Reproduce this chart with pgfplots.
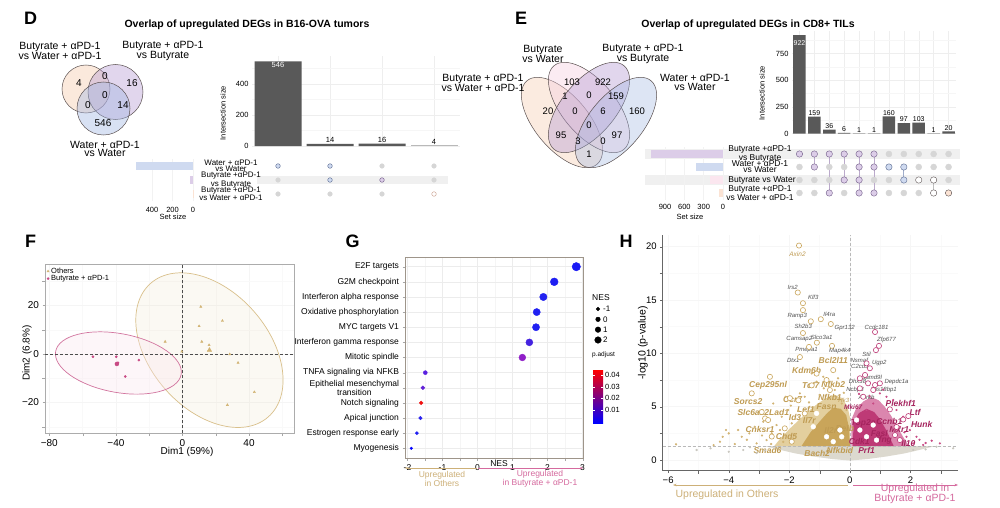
\documentclass[border=0pt]{standalone}
\usepackage{fontspec}
\setmainfont{Liberation Sans}
\usepackage{pgfplots}
\pgfplotsset{compat=1.18}
\usetikzlibrary{arrows.meta}

\newcommand{\fs}[1]{\fontsize{#1}{#1}\selectfont}
\newcommand{\fsl}[2]{\fontsize{#1}{#2}\selectfont}

\definecolor{barcol}{HTML}{595959}
\definecolor{dotgrey}{HTML}{D6D6D6}
\definecolor{peachF}{HTML}{FBE3D4}
\definecolor{purpF}{HTML}{DCCDE8}
\definecolor{blueF}{HTML}{CFDAF0}
\definecolor{pinkF}{HTML}{FBE6EF}
\definecolor{purpE}{HTML}{6F5A86}
\definecolor{blueE}{HTML}{5A6A90}
\definecolor{peachE}{HTML}{C89C8A}
\definecolor{vline}{HTML}{5A5050}
\definecolor{vpeach}{HTML}{F6C8A8}
\definecolor{vpurp}{HTML}{B49AD2}
\definecolor{vblue}{HTML}{9FB5E2}
\definecolor{vpink}{HTML}{F5CFE0}
\definecolor{tanC}{HTML}{C9A55A}
\definecolor{tanL}{HTML}{E3CF9E}
\definecolor{tanLab}{HTML}{BF9B52}
\definecolor{tanDot}{HTML}{D2B474}
\definecolor{pinkC}{HTML}{BE3A76}
\definecolor{pinkL}{HTML}{DB86AE}
\definecolor{pinkLab}{HTML}{A5245E}
\definecolor{pinkDot}{HTML}{C84A84}
\definecolor{greyC}{HTML}{DCD9CF}
\definecolor{arrTan}{HTML}{CDB078}
\definecolor{arrPink}{HTML}{D56A9E}
\definecolor{gbox}{HTML}{9E958A}

\pgfplotsset{
  upbase/.style={scale only axis, clip=false, axis line style={draw=none},
    tick style={draw=none}, major tick length=0pt,
    ticklabel style={font=\fs{7.5}}},
}
\tikzset{
  tanb/.style={font=\bfseries\itshape\fs{8.5}, text=tanLab, inner sep=0pt},
  pinkb/.style={font=\bfseries\itshape\fs{8.5}, text=pinkLab, inner sep=0pt},
  gsm/.style={font=\itshape\fs{6}, text=gray!65!black, inner sep=0pt},
}

\begin{document}
\begin{tikzpicture}[x=1pt,y=1pt]
\useasboundingbox (0,0) rectangle (1000,507);
\fill[white] (0,0) rectangle (1000,507);

% panel letters and titles
\node[font=\bfseries\fs{18}] at (30.5,488.5) {D};
\node[font=\bfseries\fs{18}] at (521,488.5) {E};
\node[font=\bfseries\fs{18}] at (30.5,265.5) {F};
\node[font=\bfseries\fs{18}] at (352.5,265.5) {G};
\node[font=\bfseries\fs{18}] at (626,265.5) {H};
\node[font=\bfseries\fs{10.5}] at (247,482) {Overlap of upregulated DEGs in B16-OVA tumors};
\node[font=\bfseries\fs{10.5}] at (748,482) {Overlap of upregulated DEGs in CD8+ TILs};

% ---------------- D : venn
\begin{scope}[line width=0.5pt]
\filldraw[draw=vline, fill=vpeach, fill opacity=0.4] (86,418) circle[radius=24];
\filldraw[draw=vline, fill=vpurp, fill opacity=0.4] (115.5,415) circle[radius=27.5];
\filldraw[draw=vline, fill=vblue, fill opacity=0.4] (103.5,398.5) circle[radius=26.5];
\end{scope}
\begin{scope}[every node/.style={font=\fs{10}}]
\node at (79,424) {4};
\node at (105,431) {0};
\node at (132,424) {16};
\node at (105,412) {0};
\node at (88,402) {0};
\node at (123,402) {14};
\node at (103,384) {546};
\end{scope}
\begin{scope}[every node/.style={font=\fsl{10.5}{8.5}, align=center}]
\node at (60,456) {Butyrate + αPD-1\\vs Water + αPD-1};
\node at (163,456) {Butyrate + αPD-1\\vs Butyrate};
\node at (105,358) {Water + αPD-1\\vs Water};
\end{scope}

% ---------------- D : upset
\fill[gray!12] (257,323) rectangle (448,331);
\begin{axis}[upbase, at={(252pt,361pt)}, anchor=south west, width=208pt, height=89.9pt,
  xmin=0.5, xmax=4.5, ymin=0, ymax=580,
  xtick={1,2,3,4}, xticklabels={}, ytick={0,200,400}, yticklabels={0,200,400},
  minor ytick={100,300,500},
  xmajorgrids, ymajorgrids, yminorgrids,
  grid style={gray!13, line width=0.4pt}, minor grid style={gray!7},
  ybar, bar width=47pt, bar shift=0pt]
\addplot[fill=barcol, draw=none, bar shift=0pt] coordinates {(1,546) (2,14) (3,16)};
\addplot[fill=gray!55, draw=none, bar shift=0pt] coordinates {(4,4)};
\node[text=white, font=\fs{7.5}] at (axis cs:1,520) {546};
\node[font=\fs{7.5}, above, inner sep=1pt] at (axis cs:2,14) {14};
\node[font=\fs{7.5}, above, inner sep=1pt] at (axis cs:3,16) {16};
\node[font=\fs{7.5}, above, inner sep=1pt] at (axis cs:4,4) {4};
\end{axis}
\node[rotate=90, font=\fs{7.5}] at (223,394) {Intersection size};

\begin{axis}[at={(252pt,306pt)}, anchor=south west, width=208pt, height=42pt,
  scale only axis, hide axis, clip=false,
  xmin=0.5, xmax=4.5, ymin=0.5, ymax=3.5]
\addplot[only marks, mark=*, mark size=2.3pt, color=dotgrey]
  coordinates {(3,3) (4,3) (1,2) (4,2) (1,1) (2,1) (3,1)};
\addplot[only marks, mark=*, mark size=2.3pt, mark options={draw=blueE, fill=blueF}]
  coordinates {(1,3) (2,3) (2,2)};
\addplot[only marks, mark=*, mark size=2.3pt, mark options={draw=purpE, fill=purpF}]
  coordinates {(3,2)};
\addplot[only marks, mark=*, mark size=2.3pt, mark options={draw=peachE, fill=white}]
  coordinates {(4,1)};
\end{axis}

\begin{axis}[upbase, at={(193pt,306pt)}, anchor=south east, width=63.5pt, height=42pt,
  x dir=reverse, xmin=0, xmax=620, ymin=0.5, ymax=3.5,
  xbar, bar width=8pt, bar shift=0pt,
  xtick={0,200,400}, xticklabels={0,200,400}, ytick=\empty,
  xmajorgrids, grid style={gray!10},
  xticklabel style={yshift=-3pt}]
\addplot[fill=blueF, draw=none, bar shift=0pt] coordinates {(560,3)};
\addplot[fill=purpF, draw=none, bar shift=0pt] coordinates {(30,2)};
\addplot[fill=peachF, draw=none, bar shift=0pt] coordinates {(4,1)};
\end{axis}
\node[font=\fs{7.5}] at (173,290) {Set size};
\begin{scope}[every node/.style={font=\fsl{8}{6}, align=center, inner sep=0pt}]
\node at (231,341) {Water + αPD-1\\vs Water};
\node at (231,327) {Butyrate +αPD-1\\vs Butyrate};
\node at (231,313) {Butyrate +αPD-1\\vs Water + αPD-1};
\end{scope}

% ---------------- E : venn
\begin{scope}[line width=0.5pt]
\filldraw[draw=vline, fill=vpeach, fill opacity=0.35, rotate around={-50:(562,384.5)}]
  (562,384.5) ellipse[x radius=54.5, y radius=26.8];
\filldraw[draw=vline, fill=vpink, fill opacity=0.4, rotate around={-50:(589,399.5)}]
  (589,399.5) ellipse[x radius=54.5, y radius=26.8];
\filldraw[draw=vline, fill=vpurp, fill opacity=0.4, rotate around={50:(589,399.5)}]
  (589,399.5) ellipse[x radius=54.5, y radius=26.8];
\filldraw[draw=vline, fill=vblue, fill opacity=0.35, rotate around={50:(616,384.5)}]
  (616,384.5) ellipse[x radius=54.5, y radius=26.8];
\end{scope}
\begin{scope}[every node/.style={font=\fs{9.5}}]
\node at (572,425) {103};
\node at (603,425) {922};
\node at (565,411) {1};
\node at (589,412) {0};
\node at (616,411) {159};
\node at (548,396) {20};
\node at (575,396) {0};
\node at (603,396) {6};
\node at (637,396) {160};
\node at (589,382) {0};
\node at (561,372) {95};
\node at (617,372) {97};
\node at (578,366) {3};
\node at (603,366) {0};
\node at (589,353) {1};
\end{scope}
\begin{scope}[every node/.style={font=\fsl{10.5}{8.5}, align=center}]
\node at (543,453) {Butyrate\\vs Water};
\node at (643,453) {Butyrate + αPD-1\\vs Butyrate};
\node at (695,424.5) {Water + αPD-1\\vs Water};
\node at (483,424) {Butyrate + αPD-1\\vs Water + αPD-1};
\end{scope}

% ---------------- E : upset
\fill[gray!12] (645,348) rectangle (960,358);
\fill[gray!12] (645,322) rectangle (960,332);
\begin{axis}[upbase, at={(792pt,373.5pt)}, anchor=south west, width=164pt, height=102.4pt,
  xmin=0.5, xmax=11.5, ymin=0, ymax=960,
  xtick={1,...,11}, xticklabels={}, ytick={0,250,500,750}, yticklabels={0,250,500,750},
  minor ytick={125,375,625,875},
  xmajorgrids, ymajorgrids, yminorgrids,
  grid style={gray!13, line width=0.4pt}, minor grid style={gray!7},
  ybar, bar width=12.5pt, bar shift=0pt]
\addplot[fill=barcol, draw=none, bar shift=0pt] coordinates {
  (1,922) (2,159) (3,36) (4,6) (5,1) (6,1) (7,160) (8,97) (9,103) (10,1) (11,20)};
\node[text=white, font=\fs{7}] at (axis cs:1,848) {922};
\begin{scope}[every node/.style={font=\fs{7}, above, inner sep=1pt}]
\node at (axis cs:2,159) {159};
\node at (axis cs:3,36) {36};
\node at (axis cs:4,6) {6};
\node at (axis cs:5,1) {1};
\node at (axis cs:6,1) {1};
\node at (axis cs:7,160) {160};
\node at (axis cs:8,97) {97};
\node at (axis cs:9,103) {103};
\node at (axis cs:10,1) {1};
\node at (axis cs:11,20) {20};
\end{scope}
\end{axis}
\node[rotate=90, font=\fs{7.5}] at (762,414) {Intersection size};

\begin{axis}[at={(792pt,307.5pt)}, anchor=south west, width=164pt, height=52pt,
  scale only axis, hide axis, clip=false, unbounded coords=jump,
  xmin=0.5, xmax=11.5, ymin=0.5, ymax=4.5]
\addplot[only marks, mark=*, mark size=3pt, color=dotgrey] coordinates {
  (7,4) (8,4) (9,4) (10,4) (11,4)
  (1,3) (3,3) (4,3) (9,3) (10,3) (11,3)
  (1,2) (2,2) (3,2) (6,2) (7,2) (11,2)
  (1,1) (2,1) (4,1) (7,1) (8,1) (9,1)};
\addplot[color=purpF!70!purpE, line width=1pt] coordinates {
  (2,4) (2,3) (2,nan) (3,4) (3,1) (3,nan) (4,4) (4,2) (4,nan)
  (5,4) (5,1) (5,nan) (6,4) (6,1)};
\addplot[color=blueF!60!blueE, line width=1pt] coordinates {(8,3) (8,2)};
\addplot[color=gray!50, line width=1pt] coordinates {(10,2) (10,1)};
\addplot[only marks, mark=*, mark size=3.2pt, mark options={draw=purpE, fill=purpF}] coordinates {
  (1,4) (2,4) (3,4) (4,4) (5,4) (6,4) (2,3) (5,3) (6,3) (4,2) (5,2) (3,1) (5,1) (6,1)};
\addplot[only marks, mark=*, mark size=3.2pt, mark options={draw=blueE, fill=blueF}] coordinates {
  (7,3) (8,3) (8,2)};
\addplot[only marks, mark=*, mark size=3.2pt, mark options={draw=vline, fill=white}] coordinates {
  (9,2) (10,2) (10,1)};
\addplot[only marks, mark=*, mark size=3.2pt, mark options={draw=vline, fill=peachF}] coordinates {
  (11,1)};
\end{axis}

\begin{axis}[upbase, at={(723pt,307.5pt)}, anchor=south east, width=80.5pt, height=52pt,
  x dir=reverse, xmin=0, xmax=1250, ymin=0.5, ymax=4.5,
  xbar, bar width=8pt, bar shift=0pt,
  xtick={0,300,600,900}, xticklabels={0,300,600,900}, ytick=\empty,
  xmajorgrids, grid style={gray!10},
  xticklabel style={yshift=-1pt}]
\addplot[fill=purpF, draw=none, bar shift=0pt] coordinates {(1125,4)};
\addplot[fill=blueF, draw=none, bar shift=0pt] coordinates {(418,3)};
\addplot[fill=pinkF, draw=none, bar shift=0pt] coordinates {(208,2)};
\addplot[fill=peachF, draw=none, bar shift=0pt] coordinates {(59,1)};
\end{axis}
\node[font=\fs{7.5}] at (690,290) {Set size};
\begin{scope}[every node/.style={font=\fsl{8.5}{6}, align=center, inner sep=0pt}]
\node at (760,353) {Butyrate +αPD-1\\vs Butyrate};
\node at (760,340) {Water + αPD-1\\vs Water};
\node at (762,327) {Butyrate vs Water};
\node at (760,314) {Butyrate +αPD-1\\vs Water + αPD-1};
\end{scope}

% ---------------- F : PCA
\begin{axis}[at={(45pt,73.7pt)}, anchor=south west, width=249.3pt, height=169pt,
  scale only axis, clip=false,
  xmin=-82.6, xmax=67.2, ymin=-32.7, ymax=37,
  xtick={-80,-40,0,40}, xticklabels={−80,−40,0,40},
  ytick={-20,0,20}, yticklabels={−20,0,20},
  minor xtick={-60,-20,20,60}, minor ytick={-30,-10,10,30},
  ticklabel style={font=\fs{10}}, tick pos=left, tick align=outside,
  major tick length=2.5pt, tick style={gray!70},
  axis line style={gray!65, line width=0.8pt},
  grid=both, grid style={gray!8}, minor grid style={gray!5},
  legend style={at={(0.005,0.995)}, anchor=north west, draw=none, fill=none,
    font=\fs{7.5}, row sep=-3.5pt, inner sep=0.5pt},
  legend cell align=left]
\draw[tanC!70, fill=tanL, fill opacity=0.12, line width=0.7pt,
  rotate around={-48.6:(axis cs:16.2,1.6)}]
  (axis cs:16.2,1.6) ellipse[x radius=89pt, y radius=59pt];
\draw[pinkC!70, fill=pinkF, fill opacity=0.35, line width=0.7pt,
  rotate around={-10.5:(axis cs:-38.5,-3.7)}]
  (axis cs:-38.5,-3.7) ellipse[x radius=63.8pt, y radius=29.4pt];
\addplot[only marks, mark=triangle*, mark size=1.3pt, color=tanDot] coordinates {
  (11,19.5) (24,13.7) (10,11.5) (-10.4,5.1) (11.6,5.1) (16,3.7) (-0.4,1)
  (28.4,-0.1) (33.4,-3.6) (43.2,-15.7) (27,-21)};
\addlegendentry{Others}
\addplot[only marks, mark=*, mark size=1.1pt, color=pinkDot] coordinates {
  (-53.8,-1.1) (-39.8,-1.1) (-38.8,-3.6) (-26.2,-2.5) (-34.4,-9.3)};
\addlegendentry{Butyrate + αPD-1}
\addplot[only marks, mark=triangle*, mark size=2.6pt, color=tanDot, forget plot]
  coordinates {(16.2,1.6)};
\addplot[only marks, mark=*, mark size=2pt, color=pinkDot, forget plot]
  coordinates {(-39.4,-4.1)};
\addplot[densely dashed, black!70, line width=0.5pt, forget plot]
  coordinates {(0,-32.7) (0,37)};
\addplot[densely dashed, black!70, line width=0.5pt, forget plot]
  coordinates {(-82.6,0) (67.2,0)};
\end{axis}
\node[font=\fs{10}] at (187,55) {Dim1 (59\%)};
\node[font=\fs{10}, rotate=90] at (27,154) {Dim2 (6.8\%)};

% ---------------- G : GSEA dot plot
\begin{axis}[at={(405pt,48.7pt)}, anchor=south west, width=178.3pt, height=201pt,
  scale only axis, clip=false,
  xmin=-2.07, xmax=3.02, ymin=0.34, ymax=13.62,
  xtick={-2,-1,0,1,2,3}, xticklabels={-2,-1,0,1,2,3},
  minor xtick={-1.5,-0.5,0.5,1.5,2.5},
  ytick={1,...,13},
  yticklabels={Myogenesis, Estrogen response early, Apical junction, Notch signaling,
    {Epithelial mesenchymal\\transition}, TNFA signaling via NFKB, Mitotic spindle,
    Interferon gamma response, MYC targets V1, Oxidative phosphorylation,
    Interferon alpha response, G2M checkpoint, E2F targets},
  yticklabel style={font=\fsl{8.5}{7.5}, align=center},
  xticklabel style={font=\fs{8.5}},
  tick pos=left, tick align=outside, major tick length=2.5pt, tick style={gray!70},
  axis line style={gbox, line width=0.8pt},
  grid=both, grid style={gray!15}, minor grid style={gray!8}]
\addplot[only marks, mark=*, mark size=4.2pt, color={rgb,255:red,26;green,26;blue,245}] coordinates {(2.82,13)};
\addplot[only marks, mark=*, mark size=3.9pt, color={rgb,255:red,30;green,30;blue,242}] coordinates {(2.19,12)};
\addplot[only marks, mark=*, mark size=3.7pt, color={rgb,255:red,34;green,34;blue,240}] coordinates {(1.88,11)};
\addplot[only marks, mark=*, mark size=3.6pt, color={rgb,255:red,32;green,32;blue,242}] coordinates {(1.69,10)};
\addplot[only marks, mark=*, mark size=3.6pt, color={rgb,255:red,32;green,32;blue,242}] coordinates {(1.67,9)};
\addplot[only marks, mark=*, mark size=3.5pt, color={rgb,255:red,68;green,34;blue,224}] coordinates {(1.48,8)};
\addplot[only marks, mark=*, mark size=3.4pt, color={rgb,255:red,144;green,32;blue,200}] coordinates {(1.28,7)};
\addplot[only marks, mark=*, mark size=2.0pt, color={rgb,255:red,90;green,32;blue,224}] coordinates {(-1.49,6)};
\addplot[only marks, mark=*, mark size=1.9pt, color={rgb,255:red,98;green,34;blue,216}] coordinates {(-1.56,5)};
\addplot[only marks, mark=*, mark size=1.9pt, color={rgb,255:red,240;green,16;blue,16}] coordinates {(-1.61,4)};
\addplot[only marks, mark=*, mark size=1.8pt, color={rgb,255:red,42;green,34;blue,240}] coordinates {(-1.63,3)};
\addplot[only marks, mark=*, mark size=1.6pt, color={rgb,255:red,32;green,32;blue,242}] coordinates {(-1.73,2)};
\addplot[only marks, mark=*, mark size=1.3pt, color={rgb,255:red,0;green,0;blue,255}] coordinates {(-1.89,1)};
\end{axis}
\node[font=\fs{8.5}] at (499,43) {NES};
% size legend
\node[font=\fs{8.5}, anchor=west, inner sep=0pt] at (592,209) {NES};
\begin{axis}[at={(593pt,167pt)}, anchor=south west, width=10pt, height=31pt,
  scale only axis, hide axis, clip=false, xmin=-1, xmax=1, ymin=0, ymax=3]
\addplot[only marks, mark=*, mark size=1.8pt, color=black] coordinates {(0,3)};
\addplot[only marks, mark=*, mark size=2.3pt, color=black] coordinates {(0,2)};
\addplot[only marks, mark=*, mark size=2.8pt, color=black] coordinates {(0,1)};
\addplot[only marks, mark=*, mark size=3.3pt, color=black] coordinates {(0,0)};
\node[font=\fs{8}, anchor=west, inner sep=0pt] at (axis cs:1.0,3) {-1};
\node[font=\fs{8}, anchor=west, inner sep=0pt] at (axis cs:1.0,2) {0};
\node[font=\fs{8}, anchor=west, inner sep=0pt] at (axis cs:1.0,1) {1};
\node[font=\fs{8}, anchor=west, inner sep=0pt] at (axis cs:1.0,0) {2};
\end{axis}
\node[font=\fs{6.5}, anchor=west, inner sep=0pt] at (592,152) {p.adjust};
\shade[top color=red, bottom color=blue] (593,84) rectangle (603,137);
\foreach \yy in {132,120,109,97} {\draw[white, line width=0.5pt] (593,\yy) -- (595,\yy) (601,\yy) -- (603,\yy);}
\node[font=\fs{7.5}, anchor=west, inner sep=0pt] at (605,132) {0.04};
\node[font=\fs{7.5}, anchor=west, inner sep=0pt] at (605,120) {0.03};
\node[font=\fs{7.5}, anchor=west, inner sep=0pt] at (605,109) {0.02};
\node[font=\fs{7.5}, anchor=west, inner sep=0pt] at (605,97) {0.01};
% direction arrows
\draw[arrTan, line width=0.8pt, {Stealth[length=3pt]}-] (405,39) -- (477,39);
\draw[arrPink, line width=0.8pt, -{Stealth[length=3pt]}] (478,39) -- (583,39);
\node[font=\fsl{8.5}{6.5}, text=arrTan, align=center] at (442,28) {Upregulated\\in Others};
\node[font=\fsl{8.5}{6.5}, text=arrPink, align=center] at (540,28) {Upregulated\\in Butyrate + αPD-1};

% ---------------- H : volcano
\begin{axis}[at={(662.7pt,36.3pt)}, anchor=south west, width=295pt, height=235.8pt,
  scale only axis, clip=false,
  xmin=-6.18, xmax=3.56, ymin=-1, ymax=21.1,
  axis x line*=bottom, axis y line*=left,
  axis line style={gray!80!black, line width=0.7pt},
  tick align=outside, major tick length=2.5pt, tick style={gray!80!black},
  xtick={-6,-4,-2,0,2}, xticklabels={−6,−4,−2,0,2},
  ytick={0,5,10,15,20}, yticklabels={0,5,10,15,20},
  minor xtick={-5,-3,-1,1,3}, minor ytick={2.5,7.5,12.5,17.5},
  ticklabel style={font=\fs{9.5}},
  grid=both, grid style={gray!7}, minor grid style={gray!4}]
\addplot[fill=greyC, draw=none] coordinates {
  (-2.8,1.3) (-2.3,0.95) (-1.8,0.62) (-1.2,0.33) (-0.6,0.1) (0,-0.05)
  (0.6,0.1) (1.2,0.33) (1.8,0.62) (2.3,0.95) (2.8,1.3) (-2.8,1.3)};
\addplot[fill=tanL, draw=none] coordinates {
  (-2.5,1.3) (-2.3,2.0) (-2.0,2.9) (-1.7,3.7) (-1.4,4.5) (-1.1,5.2) (-0.8,5.8)
  (-0.5,6.1) (-0.25,5.8) (-0.08,5.0) (0,4.0) (0,1.3) (-2.5,1.3)};
\addplot[fill=tanC, draw=none] coordinates {
  (-1.6,1.3) (-1.3,2.6) (-1.0,3.6) (-0.75,4.4) (-0.55,4.9) (-0.3,4.8)
  (-0.12,4.2) (-0.03,3.0) (0,1.3) (-1.6,1.3)};
\addplot[fill=pinkL, draw=none] coordinates {
  (0.05,1.3) (0.05,3.8) (0.2,4.8) (0.45,5.5) (0.7,5.9) (0.95,5.6) (1.15,5.0)
  (1.35,4.2) (1.55,3.2) (1.75,2.2) (1.95,1.3) (0.05,1.3)};
\addplot[fill=pinkC, draw=none] coordinates {
  (0.1,1.3) (0.12,3.6) (0.3,4.4) (0.55,4.8) (0.8,4.5) (1.0,3.8) (1.2,2.8)
  (1.35,1.9) (1.45,1.3) (0.1,1.3)};
\addplot[densely dashed, gray!55, line width=0.6pt] coordinates {(0,-1) (0,21.1)};
\addplot[densely dashed, gray!55, line width=0.6pt] coordinates {(-6.18,1.3) (3.56,1.3)};
% scattered genes
\addplot[only marks, mark=*, mark size=0.9pt, color=greyC!80!gray] coordinates {
  (-5.06,0.94) (-4.0,0.78) (-3.52,0.94) (-3.08,0.66) (2.86,1.25) (3.41,1.1)
  (2.09,0.94) (-2.8,0.9) (-4.6,1.1) (2.5,1.0) (-3.3,1.2)};
\addplot[only marks, mark=*, mark size=0.9pt, color=tanDot] coordinates {
  (-5.74,1.47) (-4.29,1.72) (-4.2,2.18) (-4.0,2.5) (-4.09,2.81) (-3.69,2.81)
  (-3.57,2.18) (-3.32,2.5) (-3.14,3.12) (-2.86,3.59) (-3.08,1.56) (-2.75,1.87)
  (-2.58,2.5) (-2.42,3.28) (-2.25,4.06) (-2.31,2.81) (-2.53,5.3) (-2.12,5.93)
  (-2.04,4.69) (-1.92,3.44) (-1.65,6.25) (-1.49,5.93) (-1.26,8.12) (-1.1,7.34)
  (-0.88,7.81) (-0.86,6.72) (-0.5,6.56) (-0.39,7.66) (-0.27,5.3) (-0.11,4.69)
  (-3.4,1.9) (-2.9,2.3) (-2.2,1.7) (-1.8,2.4) (-2.6,1.5) (-1.95,5.1) (-1.7,4.6)
  (-1.35,5.4) (-1.0,6.1) (-0.7,6.9) (-0.2,6.3) (-4.5,1.4) (-3.8,1.5)};
\addplot[only marks, mark=*, mark size=0.9pt, color=pinkDot] coordinates {
  (0.99,6.25) (1.21,5.93) (1.43,5.62) (1.76,4.06) (1.98,2.81) (2.2,2.18)
  (2.42,1.41) (2.7,1.81) (2.97,1.56) (0.77,5.3) (0.55,4.69) (1.65,3.12)
  (1.87,2.18) (2.09,1.56) (1.54,4.69) (1.1,6.6) (0.3,6.2) (2.3,1.9) (1.8,2.6)
  (2.5,1.6) (0.65,6.0)};
\addplot[only marks, mark=*, mark size=2.4pt, color=white] coordinates {
  (-0.77,2.18) (-0.55,1.72) (-1.21,3.12) (-0.33,2.81) (-0.27,2.18) (-1.1,4.37)
  (0.33,2.81) (0.55,2.18) (0.77,3.28) (0.22,3.75) (0.88,1.87)};
\addplot[only marks, mark=*, mark size=2.6pt, mark options={draw=tanC, fill=white, line width=0.6pt}] coordinates {
  (-1.68,20.1) (-1.72,15.7) (-1.55,14.7) (-1.55,14.05) (-1.29,13.0) (-0.96,13.2)
  (-0.63,12.75) (-1.55,11.9) (-1.09,11.0) (-1.35,10.6) (-0.59,10.7) (-1.65,9.65)
  (-0.55,8.43) (-1.1,8.1) (-2.64,7.8) (-3.24,6.25) (-1.26,7.0) (-0.77,7.5)
  (-0.66,6.56) (-1.98,5.8) (-2.91,4.5) (-2.8,3.9) (-2.7,3.75) (-2.58,2.2)
  (-2.15,2.97) (-1.92,1.72) (-1.7,5.6) (-1.49,4.37)};
\addplot[only marks, mark=*, mark size=2.6pt, mark options={draw=pinkC, fill=white, line width=0.6pt}] coordinates {
  (0.83,12.0) (0.96,10.7) (0.86,10.3) (0.55,9.06) (0.66,8.6) (0.5,7.97)
  (0.33,7.66) (0.6,7.19) (0.83,7.03) (0.99,7.19) (0.33,6.72) (0.77,6.56)
  (0.44,5.93) (1.32,4.75) (1.76,3.8) (1.93,4.12) (1.54,3.1) (1.49,2.34) (1.65,1.87)};
% gene labels
\node[font=\itshape\fs{6.5}, text=tanLab, inner sep=0pt] at (axis cs:-1.73,19.3) {Axin2};
\node[gsm] at (axis cs:-1.89,16.2) {Irs2};
\node[gsm] at (axis cs:-1.21,15.2) {Klf3};
\node[gsm] at (axis cs:-1.74,13.5) {Ramp3};
\node[gsm] at (axis cs:-0.68,13.7) {Il4ra};
\node[gsm] at (axis cs:-1.54,12.5) {Sh2b3};
\node[gsm] at (axis cs:-0.17,12.4) {Gpr132};
\node[gsm] at (axis cs:0.88,12.4) {Ccdc181};
\node[gsm] at (axis cs:-1.67,11.3) {Camsap2};
\node[gsm] at (axis cs:-0.93,11.5) {Slco3a1};
\node[gsm] at (axis cs:1.21,11.3) {Zfp677};
\node[gsm] at (axis cs:-1.43,10.3) {Pmepa1};
\node[gsm] at (axis cs:-0.33,10.25) {Map4k4};
\node[gsm] at (axis cs:0.55,9.9) {Stil};
\node[gsm] at (axis cs:-1.87,9.3) {Dtx1};
\node[gsm] at (axis cs:0.31,9.3) {Nsmaf};
\node[gsm] at (axis cs:0.97,9.1) {Ugp2};
\node[gsm] at (axis cs:0.33,8.75) {C2cd5};
\node[gsm] at (axis cs:0.25,7.4) {Dhx38};
\node[gsm] at (axis cs:0.72,7.75) {Samd9l};
\node[gsm] at (axis cs:1.54,7.3) {Depdc1a};
\node[gsm] at (axis cs:0.17,6.56) {Ncbp3};
\node[gsm] at (axis cs:1.12,6.56) {Mis18bp1};
\node[gsm] at (axis cs:0.55,5.9) {Aurkb};
\node[gsm, text=tanLab] at (axis cs:-0.2,5.6) {Hk3};
\node[tanb] at (axis cs:-0.55,9.3) {Bcl2l11};
\node[tanb] at (axis cs:-1.43,8.4) {Kdm6b};
\node[tanb] at (axis cs:-2.7,6.97) {Cep295nl};
\node[tanb] at (axis cs:-1.29,6.97) {Tcf7};
\node[tanb] at (axis cs:-0.55,7.1) {Nfkb2};
\node[tanb] at (axis cs:-3.36,5.47) {Sorcs2};
\node[tanb] at (axis cs:-1.89,5.7) {Ccr7};
\node[tanb] at (axis cs:-0.66,5.9) {Nfkb1};
\node[tanb] at (axis cs:-0.77,5.0) {Fasn};
\node[tanb] at (axis cs:-2.86,4.5) {Slc6a12Lad1};
\node[tanb] at (axis cs:-1.45,4.7) {Lef1};
\node[tanb] at (axis cs:-1.81,4.0) {Id3};
\node[tanb] at (axis cs:-1.34,3.75) {Il7r};
\node[tanb] at (axis cs:-2.97,2.87) {Cnksr1};
\node[tanb] at (axis cs:-0.55,2.75) {Il2ra};
\node[tanb] at (axis cs:-0.17,2.97) {Relb};
\node[tanb] at (axis cs:-2.09,2.18) {Chd5};
\node[tanb] at (axis cs:-2.72,0.94) {Smad6};
\node[tanb] at (axis cs:-0.33,0.94) {Nfkbid};
\node[tanb] at (axis cs:-1.08,0.62) {Bach2};
\node[pinkb, font=\bfseries\itshape\fs{6.5}] at (axis cs:0.11,5.0) {Mki67};
\node[pinkb] at (axis cs:1.68,5.3) {Plekhf1};
\node[pinkb] at (axis cs:2.15,4.5) {Ltf};
\node[pinkb] at (axis cs:0.44,3.44) {Top2a};
\node[pinkb] at (axis cs:1.3,3.6) {Ccnb1};
\node[pinkb] at (axis cs:2.37,3.37) {Hunk};
\node[pinkb] at (axis cs:1.63,2.9) {Mxr1};
\node[pinkb] at (axis cs:0.97,2.5) {Fasl};
\node[pinkb] at (axis cs:0.31,1.72) {Cdk1};
\node[pinkb] at (axis cs:1.13,1.81) {Ifng};
\node[pinkb] at (axis cs:1.93,1.56) {Il10};
\node[pinkb] at (axis cs:0.55,0.94) {Prf1};
\end{axis}
\node[font=\fs{10.5}, rotate=90] at (643,164) {-log10 (p-value)};
\draw[arrTan, line width=0.8pt, {Stealth[length=3.5pt]}-] (673,22) -- (848,22);
\draw[arrPink, line width=0.8pt, -{Stealth[length=3.5pt]}] (853,22) -- (958,22);
\node[font=\fs{10.5}, text=arrTan] at (727,12) {Upregulated in Others};
\node[font=\fsl{10.5}{8}, text=arrPink, align=center] at (915,13) {Upregulated in\\Butyrate + αPD-1};

\end{tikzpicture}
\end{document}
